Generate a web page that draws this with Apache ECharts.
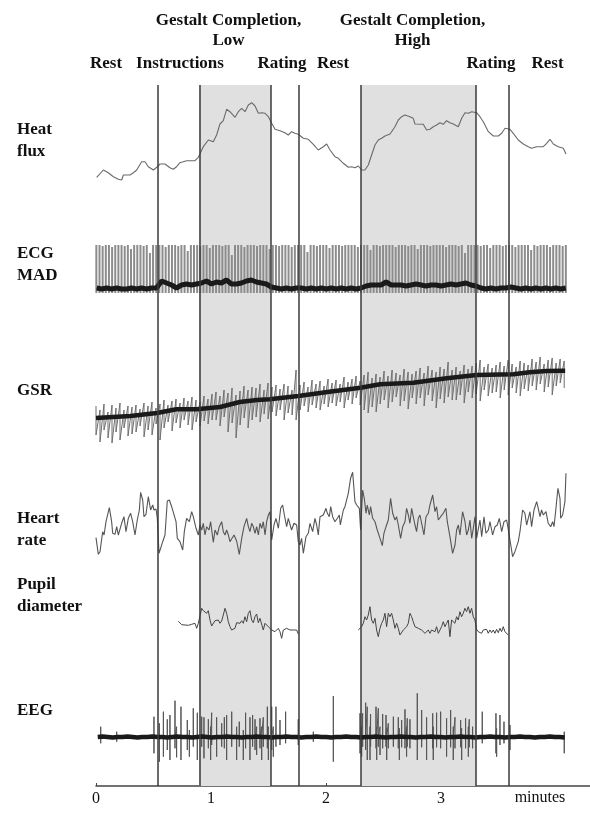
<!DOCTYPE html>
<html>
<head>
<meta charset="utf-8">
<script src="https://cdn.jsdelivr.net/npm/echarts@6/dist/echarts.min.js"></script>
<style>html,body{margin:0;padding:0;background:#fff;}#c{width:590px;height:815px;}</style>
</head>
<body>
<div id="c"></div>
<script>
// ---------- data (time in minutes, signal values in arbitrary units) ----------
const xMax = 4.296;
const tickValues = [0, 1, 2, 3];
const phaseLines = [0.542, 0.896, 1.519, 1.759, 2.304, 3.304, 3.589];
const shadeSpans = [[0.896, 1.519], [2.304, 3.304]];
const phaseNames = ['Rest', 'Instructions', 'Rating', 'Rest', 'Rating', 'Rest'];
const blockNames = ['Gestalt Completion,\nLow', 'Gestalt Completion,\nHigh'];
const rowNames = ['Heat\nflux', 'ECG\nMAD', 'GSR', 'Heart\nrate', 'Pupil\ndiameter', 'EEG'];

const heatFlux = [[0.006,7.7],[0.064,15],[0.107,12.3],[0.151,8.3],[0.194,5.7],[0.223,5],[0.238,10],[0.296,10],[0.325,12.3],[0.354,15],[0.397,23.3],[0.426,23.3],[0.455,18.3],[0.499,15],[0.528,17.7],[0.557,21],[0.6,21],[0.643,17.3],[0.672,15.7],[0.701,18.3],[0.73,22.3],[0.759,23.3],[0.788,24.3],[0.861,24.3],[0.89,27.7],[0.933,38.3],[0.977,45],[1.02,43.3],[1.049,50],[1.078,61],[1.107,64.3],[1.136,75.7],[1.165,73.3],[1.209,67.7],[1.238,73.3],[1.267,76.7],[1.296,73.3],[1.325,80],[1.354,82.3],[1.383,79],[1.412,71.7],[1.441,72.3],[1.47,71.7],[1.499,68.3],[1.528,61.7],[1.557,55.7],[1.6,54.3],[1.643,52.3],[1.672,50],[1.701,53.3],[1.73,51.7],[1.759,50.7],[1.803,46.7],[1.846,45.7],[1.89,40.7],[1.933,35],[1.977,38.3],[2.006,41],[2.035,35],[2.078,28.3],[2.107,26.7],[2.151,21.7],[2.194,17.7],[2.223,18.3],[2.252,17.3],[2.281,19],[2.31,15],[2.339,15],[2.368,20],[2.397,30],[2.426,40],[2.455,45],[2.484,46.7],[2.513,49],[2.557,51],[2.6,58.3],[2.629,65],[2.658,68.3],[2.687,70],[2.73,68.3],[2.759,66.7],[2.774,61],[2.846,60.7],[2.875,55],[2.904,55.7],[2.933,58.3],[2.962,60],[2.991,62.3],[3.02,60.7],[3.049,64.3],[3.078,62.3],[3.107,61],[3.151,58.3],[3.18,66.7],[3.209,72.3],[3.238,71.7],[3.267,73.3],[3.31,72.3],[3.339,68.3],[3.368,63.3],[3.412,53.3],[3.455,49],[3.499,49],[3.528,51.7],[3.557,56.7],[3.6,55.7],[3.629,51.7],[3.672,45],[3.716,41],[3.759,38.3],[3.788,36.7],[3.832,38.3],[3.89,38.3],[3.919,41.7],[3.948,45.7],[3.977,41],[4.02,38.3],[4.064,36.7],[4.087,31]];

const ecgStart = 0.003, ecgStep = 0.0274;
const ecgPeak = [48,48,47,48,48,46,48,48,48,47, 48,44,48,48,48,47,48,40,48,48, 48,48,46,48,48,48,47,48,48,42, 48,48,48,47,48,48,45,48,48,48, 47,48,48,38,48,48,48,46,48,48, 48,47,48,48,48,44,48,48,47,48, 48,48,46,48,48,48,48,41,48,48, 47,48,48,48,45,48,48,48,47,48, 48,48,48,46,48,48,48,43,48,48, 47,48,48,48,48,46,48,48,48,47, 48,48,44,48,48,48,47,48,48,48, 48,46,48,48,48,47,48,40,48,48, 48,48,47,48,48,45,48,48,48,47, 48,48,48,46,48,48,48,48,43,48, 47,48,48,48,46,48,48,48,47,48];
const ecgBandStart = 0.006, ecgBandStep = 0.0434;
const ecgBand = [5,4,5,4,5,4,4,5,4,5,4,5,5, 12,10,8,5,8,9,8,9,10,12,9,11,10,13,9,9,10,12,13,11,10,9,6, 5,4,5,4,5,5,4,5,4,5,4,5,4,5,4,5,4,5, 7,8,8,8,11,8,8,8,7,8,9,8,7,8,8,7,8,9,8,9,10,8,7, 5,4,5,4,5,5,6,5,4,5,4,5,4,5,4,5,4,5];

const gsrTrendT = [0,0.3,0.53,0.7,0.875,1.08,1.25,1.4,1.51,1.76,2.03,2.3,2.47,2.76,3.05,3.31,3.63,3.77,3.92,4.08];
const gsrTrendV = [32,34,37,40.7,40.7,43,48,50,50.7,54,58.3,62.3,65.7,67.3,71.7,75,75.7,77.7,79,79.3];
const gsrStep = 0.0348;
const gsrHi = [44,40,46,38,45,42,47,40,44,43, 45,41,47,44,48,42,46,50,45,49, 51,47,52,49,53,50,48,54,51,56, 58,54,60,57,62,55,59,64,60,63, 62,66,60,67,63,65,61,66,64,60, 80,65,68,63,70,66,69,64,71,67, 70,66,73,68,71,74,69,75,78,72, 76,73,79,74,80,77,75,81,78,76, 79,82,77,84,80,78,83,81,88,80, 83,79,85,81,84,87,90,83,86,82, 85,88,84,90,86,83,89,87,85,91, 88,93,86,90,92,87,91,89];
const gsrLo = [15,8,20,12,7,18,10,22,14,16, 18,24,13,20,15,26,10,22,28,19, 27,22,30,25,20,28,24,29,26,30, 30,24,33,18,27,12,25,32,22,30, 33,28,36,31,38,34,40,30,37,35, 30,40,44,38,45,42,40,46,43,47, 44,48,42,50,46,52,45,40,37,43, 38,46,50,42,48,53,44,49,41,52, 46,52,44,55,49,42,51,47,53,50, 50,55,47,58,52,56,49,60,54,57, 58,52,60,55,62,57,54,61,59,64, 60,66,58,63,55,64,67,62];

const heartRate = [[0,27.3],[0.02,10.7],[0.035,13.3],[0.058,33.3],[0.07,30],[0.087,43.3],[0.116,57.3],[0.136,43.3],[0.145,31.7],[0.165,30.7],[0.18,38.3],[0.194,30],[0.209,28.3],[0.223,41.7],[0.243,48.3],[0.261,33.3],[0.281,46.7],[0.301,51.7],[0.319,43.3],[0.339,30],[0.359,45],[0.377,55],[0.388,72.7],[0.406,65],[0.417,48.3],[0.435,50.7],[0.455,68.3],[0.475,55],[0.493,60],[0.504,55],[0.522,56],[0.533,46.7],[0.548,11.7],[0.562,11.7],[0.58,23.3],[0.6,30],[0.62,64],[0.638,65],[0.658,58.3],[0.672,60],[0.696,43.3],[0.707,26.7],[0.73,23.3],[0.754,15],[0.768,33.3],[0.788,46.7],[0.812,43.3],[0.832,53.3],[0.846,48.3],[0.87,36.7],[0.89,30],[0.904,40],[0.919,35],[0.933,41.7],[0.948,30],[0.962,38.3],[0.983,35],[0.997,43.3],[1.02,22.7],[1.035,35],[1.055,30],[1.072,38.3],[1.093,43.3],[1.107,33.3],[1.122,30],[1.136,35],[1.151,30],[1.165,23.3],[1.18,25],[1.2,30],[1.223,24],[1.246,10.7],[1.267,26.7],[1.287,38.3],[1.31,46.7],[1.325,38.3],[1.339,33.3],[1.354,41.7],[1.368,38.3],[1.383,31.7],[1.397,38.3],[1.412,30],[1.426,41.7],[1.441,36.7],[1.455,43.3],[1.47,30],[1.484,43.3],[1.499,50],[1.513,53.3],[1.528,25],[1.548,40],[1.565,46.7],[1.586,36.7],[1.606,56.7],[1.623,60],[1.638,50],[1.658,38.3],[1.672,46.7],[1.687,45],[1.701,35],[1.722,41.7],[1.745,40],[1.759,23.3],[1.774,20],[1.788,26.7],[1.803,11.7],[1.826,28.3],[1.846,31.7],[1.861,41.7],[1.884,33.3],[1.904,46.7],[1.919,40],[1.933,30],[1.948,48.3],[1.977,50],[2.0,56.7],[2.012,51.7],[2.029,48.3],[2.041,58.3],[2.058,48.3],[2.078,43.3],[2.099,46.7],[2.116,50],[2.125,40],[2.151,55],[2.165,58.3],[2.18,56.7],[2.194,71.7],[2.214,86.7],[2.232,92.7],[2.243,76.7],[2.252,63.3],[2.267,60],[2.29,56.7],[2.301,35],[2.319,75],[2.333,66.7],[2.348,51.7],[2.359,60],[2.377,50],[2.388,58.3],[2.406,46.7],[2.426,43.3],[2.446,35],[2.47,26.7],[2.49,19.3],[2.504,31.7],[2.522,38.3],[2.542,45],[2.562,66.7],[2.58,51.7],[2.6,45],[2.614,48.3],[2.629,40],[2.649,26.7],[2.667,38.3],[2.687,43.3],[2.701,56.7],[2.716,50],[2.73,41.7],[2.745,56.7],[2.759,48.3],[2.774,40],[2.788,33.3],[2.803,46.7],[2.817,50],[2.832,41.7],[2.852,30],[2.87,48.3],[2.89,51.7],[2.904,60],[2.928,70],[2.948,53.3],[2.962,58.3],[2.977,45],[2.997,48.3],[3.02,51.7],[3.043,56.7],[3.055,43.3],[3.078,28.3],[3.101,11.7],[3.122,20],[3.136,35],[3.151,40],[3.165,30],[3.188,53.3],[3.209,43.3],[3.223,30],[3.238,35],[3.252,45],[3.267,26.7],[3.281,36.7],[3.296,48.3],[3.31,26.7],[3.325,25],[3.339,45],[3.354,28.3],[3.374,48.3],[3.391,31.7],[3.412,35],[3.426,43.3],[3.449,30],[3.47,38.3],[3.49,40],[3.507,46.7],[3.528,33.3],[3.548,43.3],[3.571,45],[3.586,35],[3.6,25],[3.623,8.3],[3.643,13.3],[3.658,13.3],[3.672,23.3],[3.687,33.3],[3.71,55],[3.73,51.7],[3.745,40],[3.759,46.7],[3.774,53.3],[3.788,38.3],[3.809,55],[3.832,63.3],[3.846,56.7],[3.861,48.3],[3.875,55],[3.89,50],[3.913,53.3],[3.933,41.7],[3.954,38.3],[3.971,43.3],[3.983,38.3],[4.0,56.7],[4.017,76.7],[4.035,66.7],[4.041,46.7],[4.058,50],[4.078,63.3],[4.087,91.7]];

const pupilStep = 0.01449;
const pupilStart1 = 0.716;
const pupil1 = [23.7,22.3,20.3,19.3,20,18.7,19.7,21.7,20.7,22.3,21.7,16.7,21.7,29,36.7,34.3,35.7,31.7,34.3,25,19,20,24.3,22.3,25,21.7,24,30,36.7,31.7,23.3,18.3,15,13.3,16.7,22.3,22.3,21.7,24.3,21.7,28.3,23.3,31.7,34.3,25,22.3,28.3,31,22.3,26.7,28.3,15,21.7,20,18.3,16.7,15,15.7,13.3,15,16.7,13.3,6.7,15,15.7,16.7,15.7,15,15.7,15,13.3,15,11];
const pupilStart2 = 2.281;
const pupil2 = [15,13.3,18.3,21.7,28.3,25,30,38.3,25,21.7,26.7,15,8.3,16.7,21.7,25,31.7,18.3,31.7,28.3,31.7,25,16.7,21.7,16.7,10,11.7,15,13.3,18.3,21.7,31.7,28.3,23.3,18.3,20,16.7,15,15,16.7,11.7,13.3,15,11.7,15,16.7,13.3,18.3,11.7,15,18.3,23.3,18.3,21.7,25,8.3,25,26.7,21.7,28.3,25,33.3,28.3,31.7,36.7,33.3,38.3,31.7,36.7,28.3,25,15.7,13.3,15,11.7,15,13.3,15.7,11.7,15,12.3,15,11.7,15.7,12.3,16.7,13.3,18.3,13.3,11.7,10];

const eegLevel = 33;
const eegBandStart = 0.015, eegBandStep = 0.0432;
const eegBand = [33,33.5,33,32.5,33,33,33.5,33,32.5,33, 33,33.5,33,33,32.5,33,33.5,33,33,32.5, 33,33.5,33,32.5,33,33,33.5,33,33,32.5, 33,33,33.5,33,33,32.5,33,33,33.5,33, 33,32.5,33,33,33.5,33,33,32.5,33,33, 33.5,33,33,32.5,33,33,33.5,33,32.5,33, 33,33.5,33,33,32.5,33,33,33.5,33,33, 32.5,33,33,33.5,33,33,32.5,33,33,33.5, 33,33,32.5,33,33,33.5,33,33,32.5,33, 33,33.5,33,33,32.5];
const eegSpikes = [[0.041,43.3,26.7],[0.18,38.3,28.3],[0.504,53.3,16.7],[0.551,46.7,8.3],[0.586,58.3,13.3],[0.62,50.7,20],[0.643,55,10],[0.687,69.3,21.7],[0.701,43.3,12.7],[0.739,63.3,10],[0.794,50,20],[0.812,40,13.3],[0.846,61.7,23.3],[0.881,57.3,10],[0.919,53.3,23.3],[0.939,52.7,11.7],[0.977,50.7,21.7],[0.997,43.3,10],[1.006,57.3,25],[1.049,52.7,13.3],[1.093,46.7,23.3],[1.116,52.7,21.7],[1.136,55,10],[1.18,58.3,23.3],[1.223,43.3,10],[1.246,48.3,23.3],[1.281,40,10],[1.301,57.3,21.7],[1.339,52.7,10],[1.362,55,23.3],[1.383,50.7,20],[1.397,43.3,15],[1.426,51.7,21.7],[1.441,43.3,10],[1.455,52.7,23.3],[1.49,63.3,21.7],[1.499,43.3,10],[1.528,63.3,20],[1.542,43.3,13.3],[1.565,63.3,23.3],[1.6,50,25],[1.649,58.3,26.7],[1.759,50.7,25],[1.89,38.3,28.3],[2.064,74,8.3],[2.296,56.7,16.7],[2.31,43.3,13.3],[2.319,56.7,23.3],[2.345,67.3,20],[2.359,63.3,10],[2.383,43.3,10],[2.388,56,23.3],[2.435,63.3,21.7],[2.441,43.3,10],[2.455,61.7,23.3],[2.47,43.3,15],[2.493,56,21.7],[2.522,55,23.3],[2.528,41.7,10],[2.542,46.7,21.7],[2.586,53.3,23.3],[2.629,52.7,21.7],[2.638,41.7,10],[2.658,50,22.7],[2.687,60.7,21.7],[2.701,43.3,13.3],[2.707,51.7,23.3],[2.73,50.7,21.7],[2.794,76.7,10],[2.832,60,22.7],[2.875,52.7,10],[2.928,56.7,21.7],[2.933,43.3,10],[2.962,57.3,22.7],[2.997,58.3,21.7],[3.049,51.7,13.3],[3.084,60,22.7],[3.107,43.3,10],[3.122,52.7,21.7],[3.171,50,22.7],[3.18,41.7,10],[3.214,51.7,21.7],[3.238,43.3,13.3],[3.246,50.7,22.7],[3.275,43.3,21.7],[3.359,58.3,26.7],[3.478,56.7,16.7],[3.484,41.7,13.3],[3.513,55,25],[3.548,48.3,26.7],[3.6,45,20],[4.072,38.3,16.7]];

// ---------- build series data from the arrays ----------
const ecgBars = ecgPeak.map((v, i) => [ecgStart + i * ecgStep, v]);
const ecgBandData = ecgBand.map((v, i) => [ecgBandStart + i * ecgBandStep, v]);
const gsrTrend = gsrTrendT.map((t, i) => [t, gsrTrendV[i]]);
const gsrNoise = [];
gsrHi.forEach((h, i) => { const t = i * gsrStep; gsrNoise.push([t, h], [t, gsrLo[i]]); });
const pupilData1 = pupil1.map((v, i) => [pupilStart1 + i * pupilStep, v]);
const pupilData2 = pupil2.map((v, i) => [pupilStart2 + i * pupilStep, v]);
const eegBandData = eegBand.map((v, i) => [eegBandStart + i * eegBandStep, v]);
const eegSpikeData = [];
eegSpikes.forEach(s => { eegSpikeData.push([s[0], eegLevel], [s[0], s[1]], [s[0], s[2]], [s[0], eegLevel]); });

// ---------- layout ----------
const L = 96;
const rows = [ // grid top, height
  [95, 90],   // heat
  [243, 50],  // ecg
  [350, 100], // gsr
  [465, 100], // hr
  [600, 45],  // pupil
  [685, 85]   // eeg
];
const grids = [{left: L, right: 0, top: 85, bottom: 29}];
const xAxes = [{
  gridIndex: 0, type: 'value', min: 0, max: xMax, interval: 1,
  axisLine: {show: true, lineStyle: {color: '#444', width: 1.5}},
  axisTick: {show: true, inside: true, length: 3, customValues: tickValues, lineStyle: {color: '#444'}},
  axisLabel: {show: true, customValues: tickValues, margin: 5, color: '#111', fontSize: 16, fontFamily: '"Liberation Serif", "DejaVu Serif", serif'},
  splitLine: {show: false}
}];
const yAxes = [{gridIndex: 0, type: 'value', min: 0, max: 1, show: false}];
rows.forEach((r, i) => {
  grids.push({left: L, right: 0, top: r[0], height: r[1]});
  xAxes.push({gridIndex: i + 1, type: 'value', min: 0, max: xMax, show: false});
  yAxes.push({gridIndex: i + 1, type: 'value', min: 0, max: r[1], show: false});
});

function line(idx, data, color, width, z) {
  return {type: 'line', xAxisIndex: idx, yAxisIndex: idx, data, showSymbol: false, symbol: 'none',
    lineStyle: {color, width}, z: z || 3, silent: true, animation: false};
}

const series = [
  {type: 'line', xAxisIndex: 0, yAxisIndex: 0, data: [[0, 0]], showSymbol: false, symbol: 'none',
   lineStyle: {width: 0}, z: 1, silent: true, animation: false,
   markArea: {silent: true, itemStyle: {color: '#e0e0e0', opacity: 1},
     data: shadeSpans.map(s => [{xAxis: s[0]}, {xAxis: s[1]}])}},
  {type: 'line', xAxisIndex: 0, yAxisIndex: 0, data: [[0, 0]], showSymbol: false, symbol: 'none',
   lineStyle: {width: 0}, z: 2, silent: true, animation: false,
   markLine: {silent: true, symbol: ['none', 'none'], label: {show: false},
     lineStyle: {color: '#3a3a3a', width: 1.5, type: 'solid'},
     data: phaseLines.map(x => ({xAxis: x}))}},
  line(1, heatFlux, '#6a6a6a', 1.1),
  {type: 'bar', xAxisIndex: 2, yAxisIndex: 2, data: ecgBars, barWidth: 2, itemStyle: {color: '#8c8c8c'}, z: 3, silent: true, animation: false},
  line(2, ecgBandData, '#1a1a1a', 5, 4),
  line(3, gsrNoise, '#6e6e6e', 1, 3),
  line(3, gsrTrend, '#1a1a1a', 4.5, 4),
  line(4, heartRate, '#555', 1.1),
  line(5, pupilData1, '#444', 1),
  line(5, pupilData2, '#444', 1),
  line(6, eegSpikeData, '#555', 1, 3),
  line(6, eegBandData, '#1a1a1a', 4.5, 4)
];

// ---------- texts ----------
const serif = '"Liberation Serif", "DejaVu Serif", serif';
const graphics = [];
function txt(text, x, y, align, size, bold, lh) {
  graphics.push({type: 'text', x, y, silent: true, z: 100, style: {
    text, align, verticalAlign: 'middle', textAlign: align, textVerticalAlign: 'middle',
    fontSize: size, fontWeight: bold ? 'bold' : 'normal', fontFamily: serif, fill: '#111', lineHeight: lh || size + 4}});
}
const blockX = [228.5, 412.5];
blockNames.forEach((n, i) => txt(n, blockX[i], 31, 'center', 17, true, 20));
const phaseX = [106, 180, 282, 333, 491, 547.5];
phaseNames.forEach((n, i) => txt(n, phaseX[i], 64, 'center', 17, true));
const rowY = [141, 264.5, 391, 530, 595.5, 711];
rowNames.forEach((n, i) => txt(n, 17, rowY[i], 'left', 17, true, 22));
txt('minutes', 540, 798, 'center', 16, false);

const chart = echarts.init(document.getElementById('c'), null, {renderer: 'canvas'});
chart.setOption({
  animation: false,
  backgroundColor: '#fff',
  grid: grids, xAxis: xAxes, yAxis: yAxes, series, graphic: graphics
});
</script>
</body>
</html>
